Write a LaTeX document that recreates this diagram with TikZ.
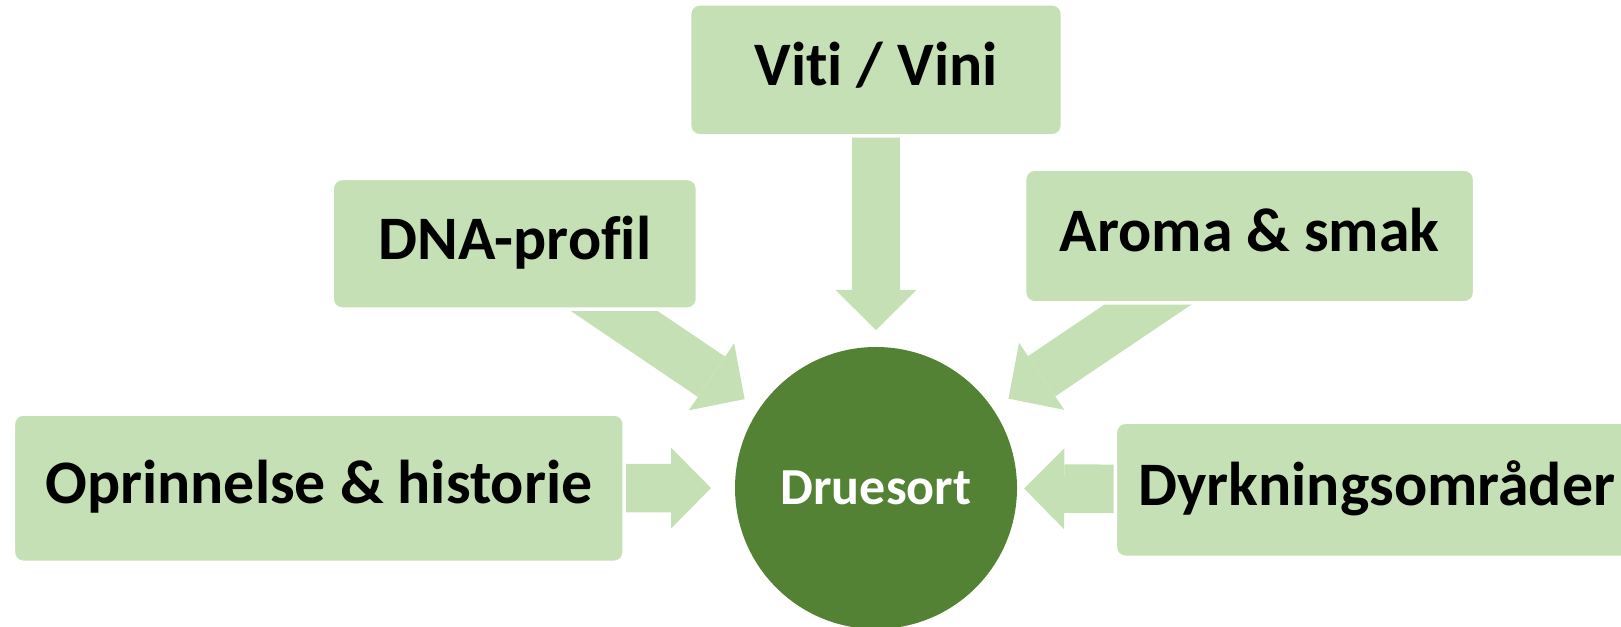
\documentclass[tikz,border=0pt]{standalone}
\usepackage{fontspec}
\setmainfont{Carlito}[Ligatures=NoCommon]
\usetikzlibrary{arrows.meta, backgrounds}

\definecolor{leafgreen}{HTML}{C5E0B4}
\definecolor{vinegreen}{HTML}{548235}

\begin{document}
\begin{tikzpicture}[
    topic/.style={fill=leafgreen, draw=white, line width=2.5pt, rounded corners=0.25cm, inner sep=0pt, text height=33pt, text depth=11pt, font=\fontsize{44}{50}\selectfont\bfseries},
    core/.style={circle, fill=vinegreen, inner sep=0pt, outer sep=0pt, minimum size=7.05cm, text=white, font=\fontsize{37}{42}\selectfont\bfseries},
    feed/.style={leafgreen, line width=1.215cm, -{Triangle[width=2.025cm, length=1cm, line width=0pt]}}
]

\useasboundingbox (0,0) rectangle (40.525,15.675);
\clip (0,0) rectangle (40.525,15.675);

\node[core] (druesort) at (21.9, 3.475) {Druesort};

\node[topic, minimum width=9.32cm, minimum height=3.3cm] (viti) at (21.9, 13.93) {Viti / Vini};
\node[topic, minimum width=9.13cm, minimum height=3.27cm] (dna) at (12.87, 9.58) {DNA-profil};
\node[topic, minimum width=11.25cm, minimum height=3.34cm] (aroma) at (31.24, 9.775) {Aroma \& smak};
\node[topic, minimum width=15.27cm, minimum height=3.71cm] (origin) at (7.97, 3.47) {Oprinnelse \& historie};
\node[topic, minimum width=13.07cm, minimum height=3.38cm] (areas) at (34.42, 3.43) {Dyrkningsområder};

% block arrows behind the boxes
\begin{scope}[on background layer]
\draw[feed, shorten >=0.425cm] (viti.center) -- (druesort);
\draw[feed, shorten >=0.44cm] (dna.center) -- (druesort);
\draw[feed, shorten >=0.47cm] (aroma.center) -- (druesort);
\draw[feed, shorten >=0.6cm] (origin.center) -- (druesort);
\draw[feed, shorten >=0.18cm] (areas.center) -- (druesort);
\end{scope}

\end{tikzpicture}
\end{document}
